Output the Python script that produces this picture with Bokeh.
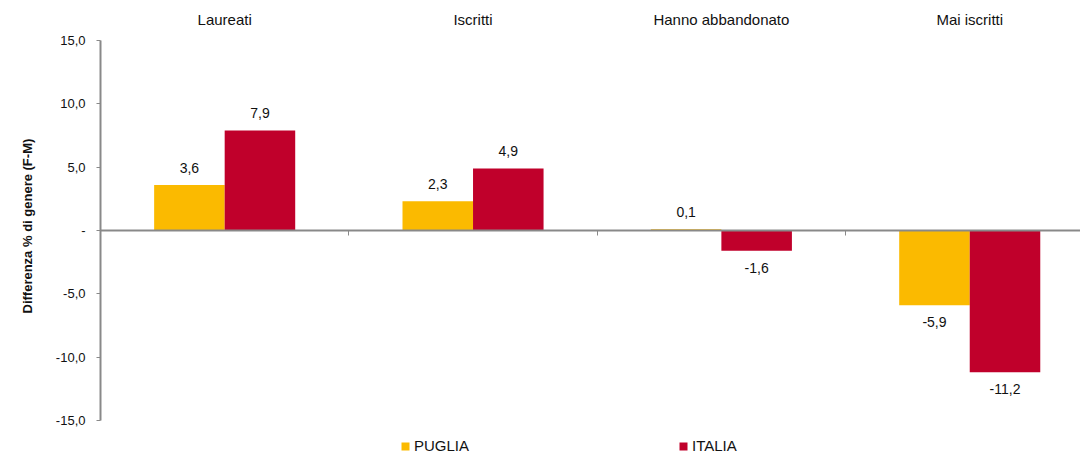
from bokeh.plotting import figure
from bokeh.models import (ColumnDataSource, LinearAxis, FixedTicker, Legend, LegendItem,
                          Range1d, LabelSet, Title)
from bokeh.core.properties import value
from bokeh.embed import file_html
from bokeh.resources import INLINE

# ---- data ----
categories = ["Laureati", "Iscritti", "Hanno abbandonato", "Mai iscritti"]
puglia = [3.6, 2.3, 0.1, -5.9]
italia = [7.9, 4.9, -1.6, -11.2]
series_names = ["PUGLIA", "ITALIA"]
y_ticks = [-15, -10, -5, 0, 5, 10, 15]
y_tick_labels = ["-15,0", "-10,0", "-5,0", "-", "5,0", "10,0", "15,0"]
y_title = "Differenza % di genere (F-M)"

# ---- style ----
FONT = "Liberation Sans"
C_PUGLIA = "#FBBA00"
C_ITALIA = "#C0002B"
GRAY = "#898989"
TXT = "#111111"
BAR_W = 0.284
Y_LO, Y_HI = -15, 15
PX_PER_UNIT = 380 / 30.0
FRAME_H = 415
y_bottom = Y_HI - FRAME_H / PX_PER_UNIT  # frame extends below the axis to hold the legend

def fmt(v):
    return ("%.1f" % v).replace(".", ",")

xc = [i + 0.5 for i in range(len(categories))]
src_p = ColumnDataSource(dict(
    x=[c - BAR_W / 2 for c in xc], top=puglia,
    lab=[fmt(v) for v in puglia],
    off=[17 if v >= 0 else -17 for v in puglia]))
src_i = ColumnDataSource(dict(
    x=[c + BAR_W / 2 for c in xc], top=italia,
    lab=[fmt(v) for v in italia],
    off=[17 if v >= 0 else -17 for v in italia]))

p = figure(width=1080, height=455, output_backend="svg", toolbar_location=None,
           x_range=Range1d(0, 3.946), y_range=Range1d(y_bottom, Y_HI),
           x_axis_location=None, y_axis_location="left",
           min_border_left=99, min_border_top=40, min_border_bottom=0, min_border_right=0)
p.outline_line_color = None
p.grid.visible = False
p.background_fill_color = "white"

r_p = p.vbar(x="x", top="top", bottom=0, width=BAR_W, source=src_p,
             fill_color=C_PUGLIA, line_color=None)
r_i = p.vbar(x="x", top="top", bottom=0, width=BAR_W, source=src_i,
             fill_color=C_ITALIA, line_color=None)

for src in (src_p, src_i):
    ls = LabelSet(x="x", y="top", text="lab", y_offset="off", source=src,
                  text_align="center", text_baseline="middle",
                  text_font=value(FONT), text_font_size="14px", text_color=TXT)
    p.add_layout(ls)

# y axis
ya = p.yaxis[0]
ya.bounds = (Y_LO, Y_HI)
ya.ticker = FixedTicker(ticks=y_ticks)
ya.major_label_overrides = dict(zip(y_ticks, y_tick_labels))
ya.major_label_text_font = FONT
ya.major_label_text_font_size = "13px"
ya.major_label_text_color = TXT
ya.major_label_standoff = 11
ya.axis_line_color = GRAY
ya.axis_line_width = 2
ya.major_tick_line_color = GRAY
ya.major_tick_in = 0
ya.major_tick_out = 4
ya.minor_tick_line_color = None

# vertical axis title, aligned to the axis extent rather than the whole frame
yt = Title(text=y_title, align="left", offset=142, standoff=35,
           text_font=FONT, text_font_size="13px", text_font_style="bold",
           text_color=TXT)
p.add_layout(yt, "left")

# category labels on top
ta = LinearAxis(ticker=FixedTicker(ticks=xc))
ta.major_label_overrides = {c: n for c, n in zip(xc, categories)}
ta.axis_line_color = None
ta.major_tick_line_color = None
ta.minor_tick_line_color = None
ta.major_tick_out = 0
ta.major_tick_in = 0
ta.major_label_standoff = 13
ta.major_label_text_font = FONT
ta.major_label_text_font_size = "15px"
ta.major_label_text_color = TXT
p.add_layout(ta, "above")

# zero line axis with category separators (ticks point down)
sep_ticks = list(range(1, len(categories)))
xa = LinearAxis(fixed_location=0, ticker=FixedTicker(ticks=sep_ticks))
xa.major_label_overrides = {t: "" for t in sep_ticks}
xa.axis_line_color = GRAY
xa.axis_line_width = 2
xa.major_tick_line_color = GRAY
xa.major_tick_in = 5
xa.major_tick_out = 0
xa.major_label_standoff = 0
xa.minor_tick_line_color = None
p.add_layout(xa, "above")

legend = Legend(items=[LegendItem(label=series_names[0], renderers=[r_p]),
                       LegendItem(label=series_names[1], renderers=[r_i])],
                orientation="horizontal", location=(300, 1),
                glyph_width=10, glyph_height=10, label_height=16, label_standoff=4,
                spacing=209, padding=0, margin=0,
                border_line_color=None, background_fill_alpha=0,
                label_text_font=FONT, label_text_font_size="15px",
                label_text_color=TXT)
p.add_layout(legend)

open("out.html", "w").write(file_html(p, INLINE))
